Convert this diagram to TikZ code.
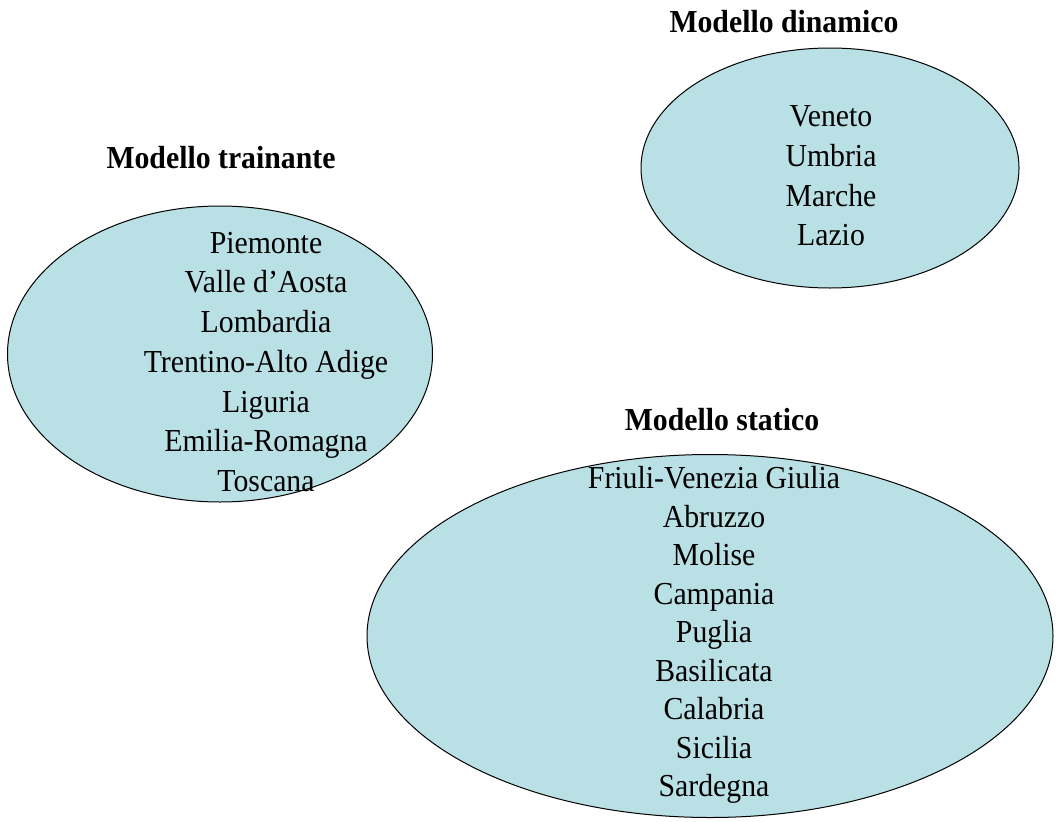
\documentclass[tikz,border=0pt]{standalone}
\usepackage{fontspec}
\setmainfont[FakeStretch=0.93]{Liberation Serif}
\usetikzlibrary{shapes.geometric}
\definecolor{regione}{RGB}{185,224,228}

\begin{document}
\begin{tikzpicture}[x=0.75pt,y=-0.75pt,
    gruppo/.style={ellipse,draw=black,fill=regione,line width=0.75pt,inner sep=0pt,align=center},
    voce/.style={font=\fontsize{24}{29.8}\selectfont},
    titolo/.style={font=\fontsize{24}{29}\selectfont\bfseries}]
\useasboundingbox (0,0) rectangle (1056,821);
% Modello trainante
\node[gruppo,minimum width=425*0.75pt,minimum height=296*0.75pt] (trainante) at (220,354) {};
\node[voce,align=center] (listaT) at (266,362) {Piemonte\\Valle d’Aosta\\Lombardia\\Trentino-Alto Adige\\Liguria\\Emilia-Romagna\\Toscana};
\node[titolo] (titoloT) at (221,158) {Modello trainante};
% Modello dinamico
\node[gruppo,minimum width=378*0.75pt,minimum height=240*0.75pt] (dinamico) at (830,168) {};
\node[voce,align=center] (listaD) at (831,176) {Veneto\\Umbria\\Marche\\Lazio};
\node[titolo] (titoloD) at (784,22) {Modello dinamico};
% Modello statico
\node[gruppo,minimum width=686*0.75pt,minimum height=363*0.75pt] (statico) at (710,636) {};
\node[voce,align=center,font=\fontsize{24}{28.9}\selectfont] (listaS) at (714,635) {Friuli-Venezia Giulia\\Abruzzo\\Molise\\Campania\\Puglia\\Basilicata\\Calabria\\Sicilia\\Sardegna};
\node[titolo] (titoloS) at (722,420) {Modello statico};
\end{tikzpicture}
\end{document}
